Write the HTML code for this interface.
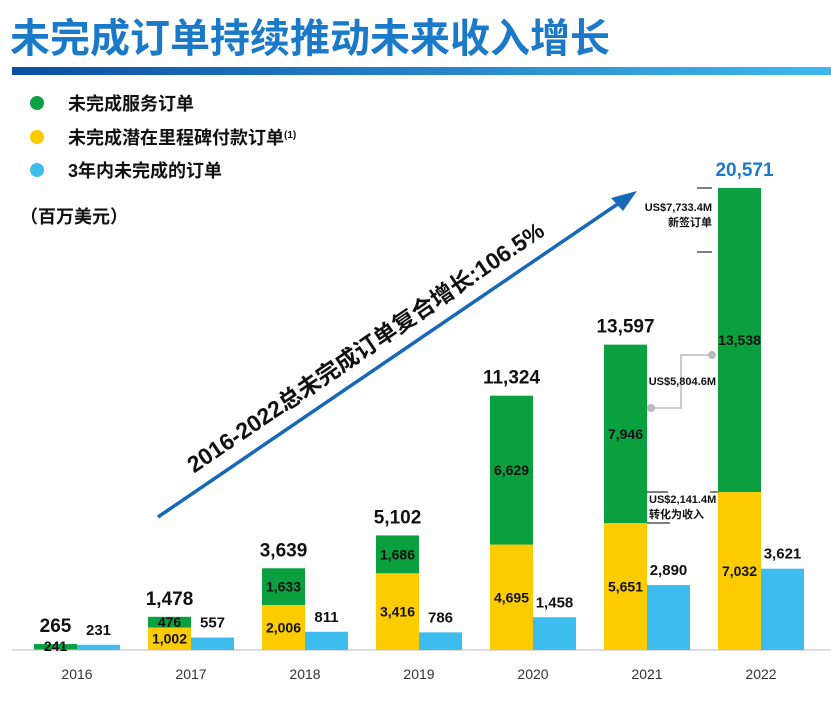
<!DOCTYPE html>
<html><head><meta charset="utf-8"><style>
body{margin:0;background:#fff;width:831px;height:696px;overflow:hidden;font-family:"Liberation Sans","Noto Sans CJK SC",sans-serif}
</style></head><body>
<svg id="c" width="831" height="696" xmlns="http://www.w3.org/2000/svg">
<defs><linearGradient id="g" x1="0" x2="1"><stop offset="0" stop-color="#0b4ea2"/><stop offset="1" stop-color="#3fb8ee"/></linearGradient></defs>
<text x="10" y="52" font-size="40" font-weight="bold" fill="#1b79c9" font-family="Liberation Sans,Noto Sans CJK SC,sans-serif">未完成订单持续推动未来收入增长</text>
<rect x="12" y="67" width="819" height="8" fill="url(#g)"/>
<g font-size="18" font-weight="bold" fill="#111" font-family="Liberation Sans,Noto Sans CJK SC,sans-serif">
<g><circle cx="37" cy="103" r="7" fill="#0aa040"/><text x="68" y="110">未完成服务订单</text></g>
<g><circle cx="37" cy="137" r="7" fill="#fccc00"/><text x="68" y="144">未完成潜在里程碑付款订单<tspan font-size="10" dy="-6">(1)</tspan></text></g>
<g><circle cx="37" cy="170" r="7" fill="#3cbdee"/><text x="68" y="177">3年内未完成的订单</text></g>
<text x="20" y="223">（百万美元）</text>
</g>
<line x1="12" y1="650" x2="831" y2="650" stroke="#ddd" stroke-width="2"/>
<g>
<line x1="158" y1="517" x2="625" y2="199" stroke="#1769b8" stroke-width="3.5"/>
<polygon points="637,191 611,198 623,211" fill="#1769b8"/>
<text transform="translate(370,354) rotate(-34.2)" text-anchor="middle" font-size="23" font-weight="bold" fill="#111" font-family="Liberation Sans,Noto Sans CJK SC,sans-serif">2016-2022总未完成订单复合增长:106.5%</text>
</g>
<g id="bars"></g>
<g font-size="11" font-weight="bold" fill="#111" font-family="Liberation Sans,Noto Sans CJK SC,sans-serif">
<path d="M697,188H712M697,252H712" stroke="#555" stroke-width="1.5"/>
<text x="712" y="211" text-anchor="end">US$7,733.4M</text><text x="712" y="226" text-anchor="end">新签订单</text>
<path d="M651,408H681V355H712" stroke="#bbb" stroke-width="1.5" fill="none"/>
<circle cx="651" cy="408" r="4" fill="#bbb"/><circle cx="712" cy="355" r="4" fill="#bbb"/>
<text x="716" y="385" text-anchor="end">US$5,804.6M</text>
<path d="M647,492H668M647,523H670M710,492H718" stroke="#555" stroke-width="1.5"/>
<text x="649" y="503">US$2,141.4M</text><text x="649" y="518">转化为收入</text>
</g>
</svg>
<script>
const years=['2016','2017','2018','2019','2020','2021','2022'];
const milestone=[24,1002,2006,3416,4695,5651,7032];
const service=[241,476,1633,1686,6629,7946,13538];
const within3=[231,557,811,786,1458,2890,3621];
const totalLabels=['265','1,478','3,639','5,102','11,324','13,597','20,571'];
const NS='http://www.w3.org/2000/svg';
const base=650, k=462/20571;
const y=v=>base-v*k;
const xs=i=>34+i*114;
const g=document.getElementById('bars');
function mk(t,a,txt){const e=document.createElementNS(NS,t);for(const n in a)e.setAttribute(n,a[n]);if(txt!=null)e.textContent=txt;g.appendChild(e);return e;}
const F='Liberation Sans,Noto Sans CJK SC,sans-serif';
years.forEach((yr,i)=>{
 const x=xs(i),w=43;
 const m=milestone[i],s=service[i],b=within3[i];
 let e=mk('rect',{x:x,y:y(m),width:w,height:m*k,fill:'#fccc00'});
 
 
 e=mk('rect',{x:x,y:y(m+s),width:w,height:s*k,fill:'#0aa040'});
 
 
 e=mk('rect',{x:x+w,y:y(b),width:w,height:b*k,fill:'#3cbdee'});
 
 
 const cx=x+w/2;
 if(i>0){e=mk('text',{x:cx,y:(y(m)+base)/2+5,'text-anchor':'middle','font-size':14,'font-weight':'bold',fill:'#111','font-family':F},milestone[i].toLocaleString('en-US'));
 }
 const sy=i==0?base+1:(y(m)+y(m+s))/2+5;
 e=mk('text',{x:cx,y:sy,'text-anchor':'middle','font-size':14,'font-weight':'bold',fill:'#111','font-family':F},service[i].toLocaleString('en-US'));
 
 
 e=mk('text',{x:x+w+w/2,y:y(b)-10,'text-anchor':'middle','font-size':15,'font-weight':'bold',fill:'#111','font-family':F},within3[i].toLocaleString('en-US'));
 
 
 e=mk('text',{x:cx+(i==6?5:0),y:y(m+s)-12,'text-anchor':'middle','font-size':19,'font-weight':'bold',fill:i==6?'#1b79c9':'#111','font-family':F},totalLabels[i]);
 
 
 e=mk('text',{x:x+w,y:679,'text-anchor':'middle','font-size':14,fill:'#333','font-family':F},yr);
 
 
});
</script>
</body></html>
